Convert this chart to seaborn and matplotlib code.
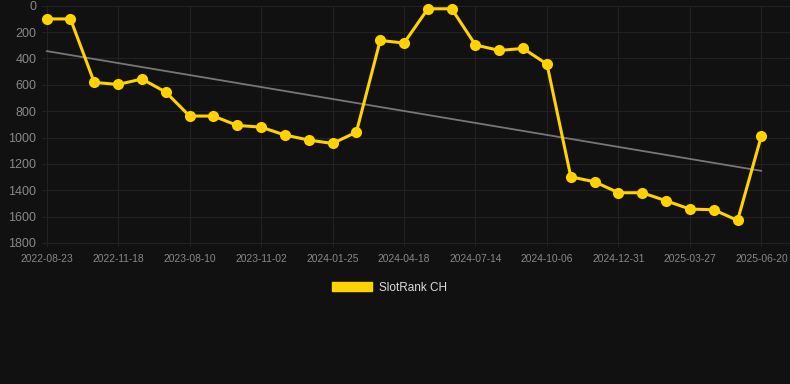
import numpy as np
import pandas as pd
import matplotlib
matplotlib.use("Agg")
import matplotlib.pyplot as plt
import seaborn as sns
from matplotlib.patches import Patch

tick_labels = ["2022-08-23", "2022-11-18", "2023-08-10", "2023-11-02", "2024-01-25",
               "2024-04-18", "2024-07-14", "2024-10-06", "2024-12-31", "2025-03-27",
               "2025-06-20"]
ranks = [100, 100, 582, 597, 556, 655, 837, 837, 908, 921, 981, 1019, 1045, 959,
         263, 283, 23, 23, 298, 339, 324, 443, 1298, 1336, 1419, 1419, 1480, 1543,
         1548, 1629, 987]
series_name = "SlotRank CH"

df = pd.DataFrame({"idx": np.arange(len(ranks)), "rank": ranks})

# linear trend over the series
coef = np.polyfit(df["idx"], df["rank"], 1)
df["trend"] = np.polyval(coef, df["idx"])

bg = "#111111"
sns.set_style("dark", {"axes.facecolor": bg, "figure.facecolor": bg})
plt.rcParams["font.family"] = ["Liberation Sans", "DejaVu Sans"]

fig = plt.figure(figsize=(7.9, 3.84), dpi=100)
ax = fig.add_axes([0.053, 0.357, 0.947, 0.628])

sns.lineplot(data=df, x="idx", y="trend", ax=ax, color="#777777", lw=1.3)
sns.lineplot(data=df, x="idx", y="rank", ax=ax, color="#FFD200", lw=2.2,
             marker="o", markersize=8, markeredgewidth=0, clip_on=False)

ax.set_ylim(1830, 0)
ax.set_yticks(range(0, 1801, 200))
ax.set_xlim(-0.2, 31.2)
ax.set_xticks(range(0, len(ranks), 3))
ax.set_xticklabels(tick_labels)
ax.set_xlabel("")
ax.set_ylabel("")
ax.grid(True, color="#222222", lw=0.8)
for s in ax.spines.values():
    s.set_visible(False)
ax.tick_params(axis="x", colors="#888888", labelsize=7.4, length=0, pad=5)
ax.tick_params(axis="y", colors="#888888", labelsize=9, length=0, pad=4)

ax.legend(handles=[Patch(facecolor="#FFD200", edgecolor="#FFD200", label=series_name)],
          loc="upper center", bbox_to_anchor=(0.465, -0.1), frameon=False,
          labelcolor="#dddddd", fontsize=8.5, handlelength=3.4, handleheight=0.9,
          handletextpad=0.6)

fig.savefig("out.png", dpi=100, facecolor=bg)
